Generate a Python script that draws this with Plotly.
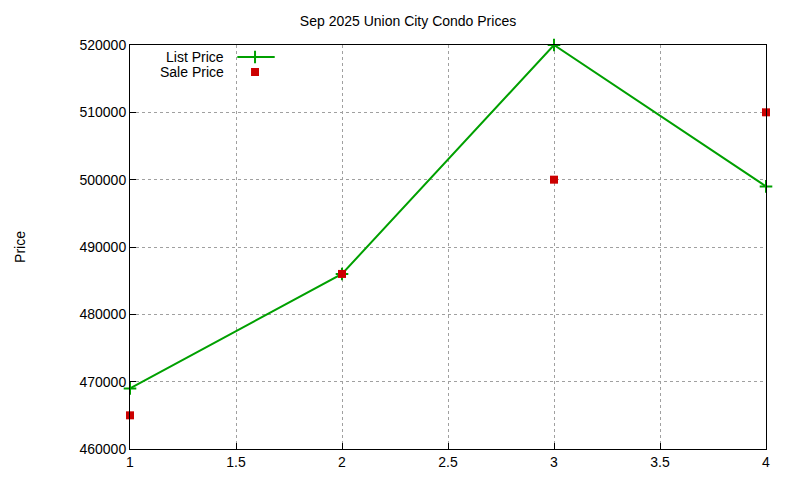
import plotly.graph_objects as go

# data
x_vals = [1, 2, 3, 4]
list_price = [469000, 486000, 520000, 499000]
sale_price = [465000, 486000, 500000, 510000]

green = "#00a000"
red = "#cc0000"
font = dict(family="Liberation Sans, Arial, sans-serif", size=14, color="black")

fig = go.Figure()
fig.add_trace(go.Scatter(x=x_vals, y=list_price, mode="lines+markers", cliponaxis=False,
                         line=dict(color=green, width=2),
                         marker=dict(symbol="cross-thin", size=9, line=dict(color=green, width=2)),
                         name="List Price", showlegend=False))
fig.add_trace(go.Scatter(x=x_vals, y=sale_price, mode="markers", cliponaxis=False,
                         marker=dict(symbol="square", size=8, color=red),
                         name="Sale Price", showlegend=False))

# gnuplot style key, top left
def px(x):
    return (x - 119) / 646
def py(y):
    return (448 - y) / 404

fig.add_annotation(x=px(217), y=py(56), xref="paper", yref="paper", text="List Price",
                   showarrow=False, xanchor="right", yanchor="middle", font=font)
fig.add_annotation(x=px(217), y=py(71), xref="paper", yref="paper", text="Sale Price",
                   showarrow=False, xanchor="right", yanchor="middle", font=font)
fig.add_shape(type="line", xref="paper", yref="paper", x0=px(228), x1=px(266),
              y0=py(56), y1=py(56), line=dict(color=green, width=2))
fig.add_trace(go.Scatter(x=[px(246)], y=[py(56)], xaxis="x2", yaxis="y2", mode="markers",
                         marker=dict(symbol="cross-thin", size=9, line=dict(color=green, width=2)),
                         showlegend=False, hoverinfo="skip"))
fig.add_trace(go.Scatter(x=[px(246)], y=[py(71)], xaxis="x2", yaxis="y2", mode="markers",
                         marker=dict(symbol="square", size=8, color=red),
                         showlegend=False, hoverinfo="skip"))

axis_common = dict(showgrid=True, gridcolor="#a0a0a0", griddash="dot", gridwidth=1,
                   showline=True, linecolor="black", linewidth=1, mirror=True,
                   ticks="inside", ticklen=6, tickcolor="black", zeroline=False,
                   tickfont=font)

fig.update_layout(
    width=800, height=480,
    paper_bgcolor="white", plot_bgcolor="white",
    margin=dict(l=112, r=42, t=37, b=39),
    title=dict(text="Sep 2025 Union City Condo Prices", x=0.5, xanchor="center",
               y=0.973, yanchor="middle", font=font),
    xaxis=dict(range=[1, 4], dtick=0.5, **axis_common),
    yaxis=dict(range=[460000, 520000], dtick=10000, tickformat="d",
               title=dict(text="Price", font=font, standoff=50), **axis_common),
    xaxis2=dict(range=[0, 1], overlaying="x", visible=False),
    yaxis2=dict(range=[0, 1], overlaying="y", visible=False),
    font=font,
)

fig.write_html("out.html")
